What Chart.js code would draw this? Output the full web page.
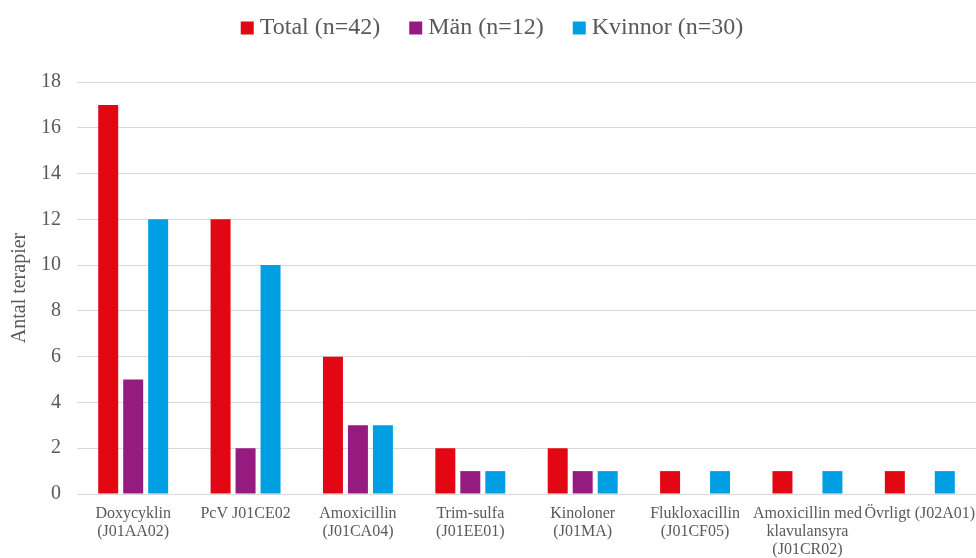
<!DOCTYPE html>
<html>
<head>
<meta charset="utf-8">
<script src="https://cdn.jsdelivr.net/npm/chart.js@4/dist/chart.umd.min.js"></script>
<style>
  html, body { margin: 0; padding: 0; background: #fff; }
  #wrap { width: 976px; height: 558px; }
</style>
</head>
<body>
<div id="wrap"><canvas id="c" width="976" height="558"></canvas></div>
<script>
// Antibiotic therapies by substance, split by sex
const categories = [
  ["Doxycyklin", "(J01AA02)"],
  "PcV J01CE02",
  ["Amoxicillin", "(J01CA04)"],
  ["Trim-sulfa", "(J01EE01)"],
  ["Kinoloner", "(J01MA)"],
  ["Flukloxacillin", "(J01CF05)"],
  ["Amoxicillin med", "klavulansyra", "(J01CR02)"],
  "Övrligt (J02A01)"
];
const totalValues   = [17, 12, 6, 2, 2, 1, 1, 1];
const menValues     = [5, 2, 3, 1, 1, 0, 0, 0];
const womenValues   = [12, 10, 3, 1, 1, 1, 1, 1];
const seriesNames   = ["Total (n=42)", "Män (n=12)", "Kvinnor (n=30)"];
const yTicks        = [0, 2, 4, 6, 8, 10, 12, 14, 16, 18];

const textColor = "#595959";
const serif = "'Liberation Serif', 'Times New Roman', serif";

// Leave a fixed gap between the legend row and the plot area
const legendGap = {
  id: "legendGap",
  beforeInit(chart) {
    const legend = chart.legend;
    if (!legend) return;
    const origFit = legend.fit;
    legend.fit = function () {
      origFit.call(this);
      this.height = 101;
    };
  }
};

new Chart(document.getElementById("c"), {
  type: "bar",
  data: {
    labels: categories,
    datasets: [
      { label: seriesNames[0], data: totalValues, backgroundColor: "#E30613" },
      { label: seriesNames[1], data: menValues,   backgroundColor: "#951B81" },
      { label: seriesNames[2], data: womenValues, backgroundColor: "#009FE3" }
    ]
  },
  plugins: [legendGap],
  options: {
    responsive: false,
    animation: false,
    layout: { padding: { top: -19, right: 0, left: 14, bottom: 0 } },
    datasets: { bar: { categoryPercentage: 0.667, barPercentage: 0.8 } },
    plugins: {
      tooltip: { enabled: false },
      legend: {
        position: "top",
        labels: {
          color: textColor,
          font: { family: serif, size: 24 },
          usePointStyle: true,
          pointStyle: "rect",
          boxWidth: 1,
          boxHeight: 13,
          padding: 35
        }
      }
    },
    scales: {
      x: {
        afterFit: (axis) => {
          axis.height = 64;
          axis.paddingLeft = 0;
          axis.paddingRight = 0;
        },
        grid: { display: false, drawTicks: false },
        border: { display: true, color: "#d9d9d9", width: 1 },
        ticks: {
          color: textColor,
          font: { family: serif, size: 16, lineHeight: 1.12 },
          maxRotation: 0,
          minRotation: 0,
          autoSkip: false,
          padding: 11
        }
      },
      y: {
        min: 0,
        max: 18,
        afterBuildTicks: (axis) => { axis.ticks = yTicks.map(v => ({ value: v })); },
        afterFit: (axis) => { axis.width = 63; },
        grid: { color: "#d9d9d9", drawTicks: false },
        border: { display: false },
        ticks: {
          color: textColor,
          font: { family: serif, size: 20 },
          padding: 16
        },
        title: {
          display: true,
          text: "Antal terapier",
          color: textColor,
          font: { family: serif, size: 20 },
          padding: { top: -6, bottom: 0 }
        }
      }
    }
  }
});
</script>
</body>
</html>
